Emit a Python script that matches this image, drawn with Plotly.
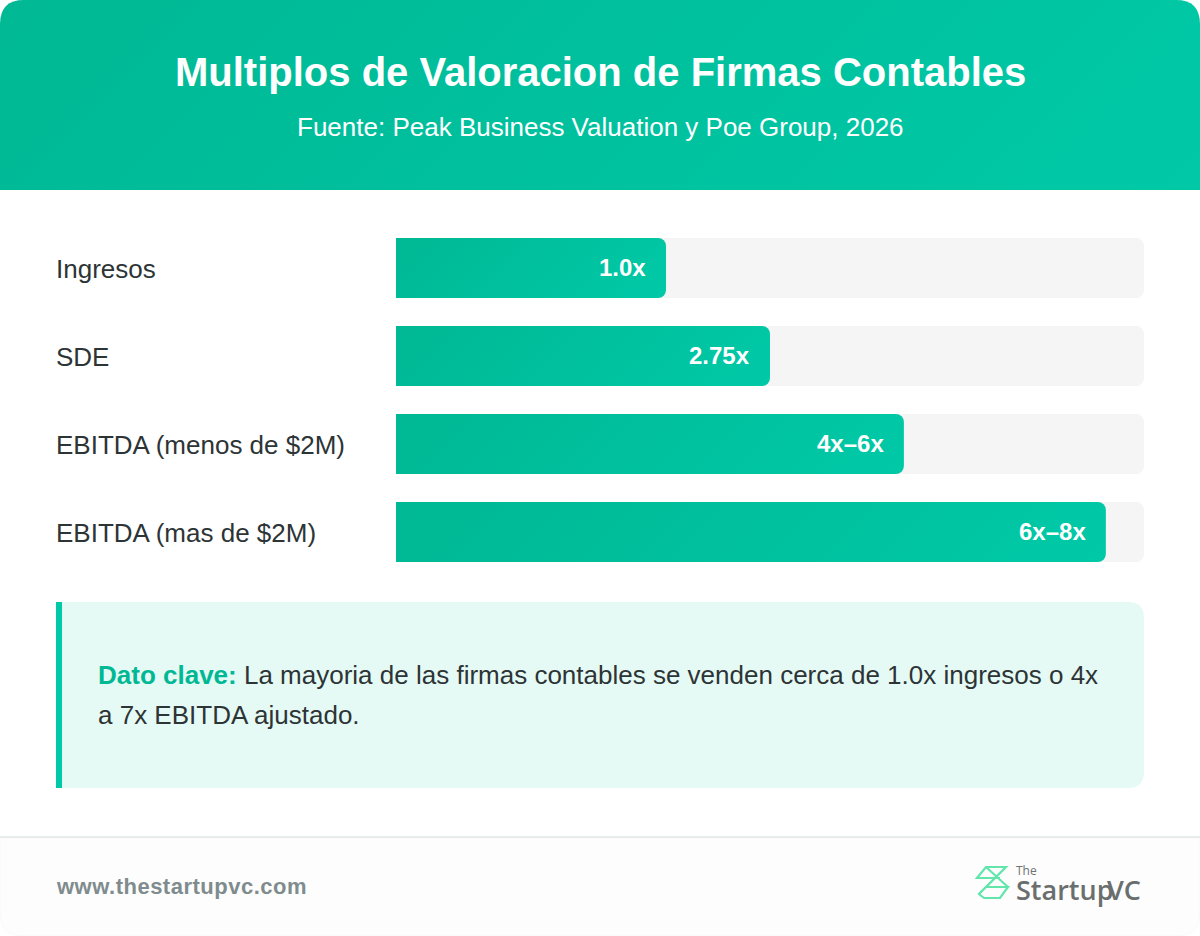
import plotly.graph_objects as go

W, H = 1200, 936

# Chart data
categories = ["Ingresos", "SDE", "EBITDA (menos de $2M)", "EBITDA (mas de $2M)"]
bar_pct = [36.1, 50, 67.9, 94.9]
value_labels = ["1.0x", "2.75x", "4x–6x", "6x–8x"]
track_pct = [100, 100, 100, 100]

TITLE = "Multiplos de Valoracion de Firmas Contables"
SUBTITLE = "Fuente: Peak Business Valuation y Poe Group, 2026"
NOTE_HEAD = "Dato clave:"
NOTE_LINE_1 = " La mayoria de las firmas contables se venden cerca de 1.0x ingresos o 4x"
NOTE_LINE_2 = "a 7x EBITDA ajustado."
SITE = "www.thestartupvc.com"

FONT = "Liberation Sans, Arial, sans-serif"
LOGO_FONT = "Open Sans, sans-serif"
TEAL_A, TEAL_B = "#00b894", "#00c9a7"
LOGO_GREEN = "#62e6ab"
LOGO_GREY = "#6a6e6e"


def px(x):
    return x / W


def py(y):
    return 1 - y / H


def rounded(x0, y0, x1, y1, tl=0, tr=0, br=0, bl=0):
    """SVG path (paper coordinates) of a rectangle with per-corner radii."""
    def p(x, y):
        return f"{px(x):.5f},{py(y):.5f}"

    d = f"M{p(x0 + tl, y0)} L{p(x1 - tr, y0)} "
    if tr:
        d += f"Q{p(x1, y0)} {p(x1, y0 + tr)} "
    d += f"L{p(x1, y1 - br)} "
    if br:
        d += f"Q{p(x1, y1)} {p(x1 - br, y1)} "
    d += f"L{p(x0 + bl, y1)} "
    if bl:
        d += f"Q{p(x0, y1)} {p(x0, y1 - bl)} "
    d += f"L{p(x0, y0 + tl)} "
    if tl:
        d += f"Q{p(x0, y0)} {p(x0 + tl, y0)} "
    return d + "Z"


def panel(path, fill, line=None, width=0):
    return dict(
        type="path", path=path, xref="paper", yref="paper", layer="below",
        fillcolor=fill, line=dict(color=line or "rgba(0,0,0,0)", width=width),
    )


def polyline(points, color=LOGO_GREEN, width=2.2):
    d = "M" + " L".join(f"{px(x):.5f},{py(y):.5f}" for x, y in points)
    return dict(
        type="path", path=d, xref="paper", yref="paper", layer="above",
        line=dict(color=color, width=width),
    )


def label(x, y, text, size, color, anchor="left", weight="normal", font=FONT):
    # Annotation boxes carry 2px of inner padding; the x shift keeps text on its margin
    return dict(
        x=px(x), y=py(y), xref="paper", yref="paper", text=text, showarrow=False,
        xanchor=anchor, yanchor="middle", align=anchor, xshift=-2 if anchor == "left" else 0,
        font=dict(family=font, size=size, color=color, weight=weight),
    )


fig = go.Figure()
# Tracks and fills sit on twin axes so each trace gets its own corner rounding
fig.add_bar(
    y=categories, x=track_pct, orientation="h", marker=dict(color="#f5f5f5", line_width=0),
    hoverinfo="skip", showlegend=False, xaxis="x", yaxis="y",
)
fig.add_bar(
    y=categories, x=bar_pct, orientation="h", marker=dict(color=TEAL_A, line_width=0),
    hoverinfo="skip", showlegend=False, xaxis="x2", yaxis="y2",
)

shapes = [
    panel(rounded(0, 838, W, 936, br=24, bl=24), "#fdfdfd", "#f8f8f8", 1),  # footer band
    panel(rounded(0, 0, W, 190, tl=24, tr=24), TEAL_A),  # header band
    panel(rounded(56, 602, 1144, 788, tr=16, br=16), "#e6faf5"),  # callout
    panel(rounded(56, 602, 62, 788), TEAL_B),  # callout accent
    panel(rounded(0, 836, W, 838), "#e9ecec"),  # footer rule
]

# Logo mark: two interlocked chevrons
TL, TR, LEFT = (986, 867), (1006, 867), (977, 878)
RIGHT, BL, BR = (1008, 887), (984, 898), (1000, 898)
shapes += [
    polyline([(1000, 878), LEFT, TL, TR, (979, 894), BL, BR, RIGHT, (985, 887)]),
    polyline([TL, RIGHT]),
]

annotations = [
    label(600, 72, TITLE, 40, "#ffffff", "center", "bold"),
    label(600, 127, SUBTITLE, 26, "#ffffff", "center"),
    label(98, 675, f"<b style='color:#00b894'>{NOTE_HEAD}</b><span style='color:#2d3436'>{NOTE_LINE_1}</span>", 26, "#2d3436"),
    label(98, 715, NOTE_LINE_2, 26, "#2d3436"),
    label(56, 886, SITE, 22, "#7f8c8d", weight="bold"),
    label(1016, 870, "The", 12, "#6f7373", font=LOGO_FONT),
    label(1016, 889, "Startup", 27, LOGO_GREY, weight=600, font=LOGO_FONT),
    label(1107, 889, "VC", 27, LOGO_GREY, weight=600, font=LOGO_FONT),
]

# Category names sit left-aligned against the page margin, values inside the bar ends
for cat in categories:
    annotations.append(dict(
        x=px(56), xref="paper", y=cat, yref="y", text=cat, showarrow=False, xanchor="left",
        xshift=-2, yanchor="middle", yshift=-1, font=dict(family=FONT, size=26, color="#2d3436"),
    ))
for cat, pct, text in zip(categories, bar_pct, value_labels):
    annotations.append(dict(
        x=pct, xref="x", y=cat, yref="y", text=text, showarrow=False, xanchor="right",
        xshift=-18, yanchor="middle", yshift=1,
        font=dict(family=FONT, size=24, color="#ffffff", weight="bold"),
    ))

x_axis = dict(domain=[396 / W, 1144 / W], range=[0, 100], visible=False, fixedrange=True)
y_axis = dict(domain=[1 - 576 / H, 1 - 224 / H], categoryorder="array", categoryarray=categories,
              range=[3.5, -0.5], visible=False, fixedrange=True)

fig.update_layout(
    width=W, height=H, autosize=False,
    margin=dict(l=0, r=0, t=0, b=0),
    paper_bgcolor="#ffffff", plot_bgcolor="rgba(0,0,0,0)",
    bargap=28 / 88, barcornerradius=8,
    xaxis=x_axis, yaxis=y_axis,
    xaxis2=dict(x_axis, overlaying="x"), yaxis2=dict(y_axis, overlaying="y"),
    shapes=shapes, annotations=annotations,
)

# Paints the diagonal gradient fills and the letter spacing of the footer, neither of which
# the layout schema exposes.
post_script = """
var gd = document.getElementById('{plot_id}');
var svg = gd.querySelector('.main-svg');
var NS = 'http://www.w3.org/2000/svg';
var defs = svg.querySelector('defs');
var n = 0;
function paint(el) {
  var b = el.getBBox();
  var q = (b.width + b.height) / 4, cx = b.x + b.width / 2, cy = b.y + b.height / 2;
  var g = document.createElementNS(NS, 'linearGradient');
  g.setAttribute('id', 'teal' + (n++));
  g.setAttribute('gradientUnits', 'userSpaceOnUse');
  g.setAttribute('x1', cx - q); g.setAttribute('y1', cy - q);
  g.setAttribute('x2', cx + q); g.setAttribute('y2', cy + q);
  [['0', '#00b894'], ['1', '#00c9a7']].forEach(function (s) {
    var t = document.createElementNS(NS, 'stop');
    t.setAttribute('offset', s[0]); t.setAttribute('stop-color', s[1]);
    g.appendChild(t);
  });
  defs.appendChild(g);
  el.style.fill = 'url(#' + g.id + ')';
}
var layers = gd.querySelectorAll('.barlayer .trace');
layers[layers.length - 1].querySelectorAll('.point path').forEach(paint);
gd.querySelectorAll('.shapelayer path').forEach(function (p) {
  if (p.style.fill.indexOf('184') !== -1) paint(p);
});
gd.querySelectorAll('.annotation-text').forEach(function (t) {
  if (t.textContent.indexOf('www.') === 0) t.style.letterSpacing = '0.5px';
});
"""

fig.write_html("out.html", config={"staticPlot": True, "responsive": False}, post_script=post_script)
